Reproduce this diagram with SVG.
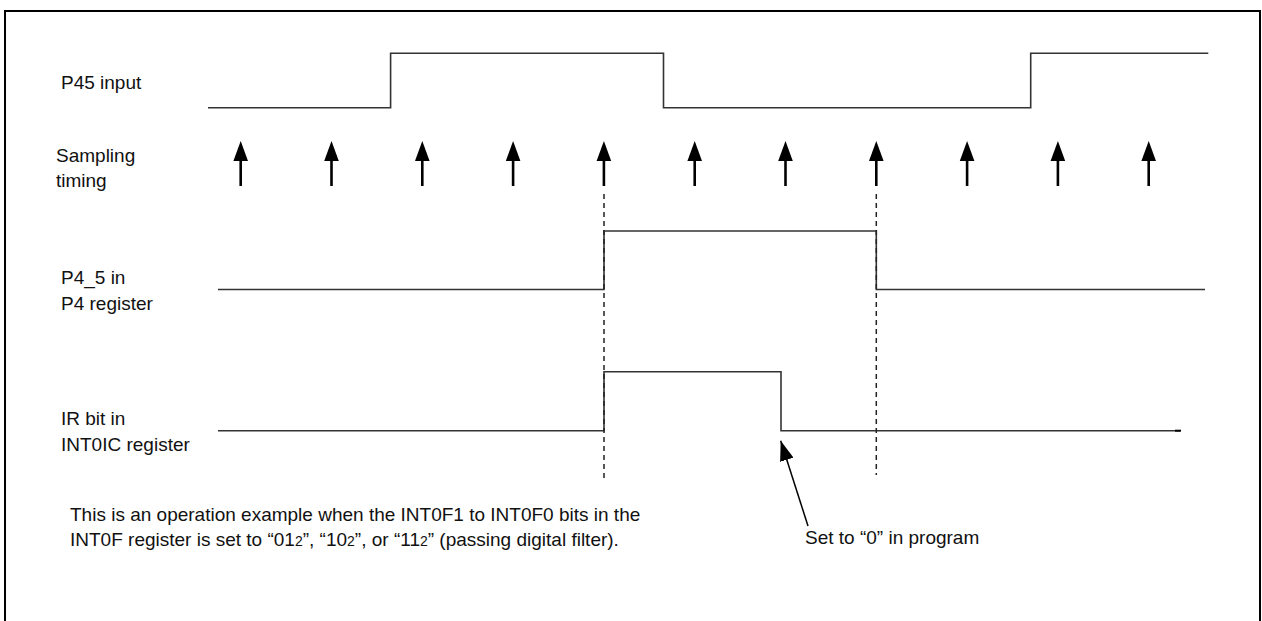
<svg xmlns="http://www.w3.org/2000/svg" xmlns:xlink="http://www.w3.org/1999/xlink" width="1262" height="621" viewBox="0 0 1262 621">
  <style>
    .lbl { font-family: "Liberation Sans", Arial, sans-serif; font-size: 19px; fill: #111; }
    .wave { fill: none; stroke: #333; stroke-width: 1.6; }
    .dash { fill: none; stroke: #222; stroke-width: 1.5; stroke-dasharray: 5 4; }
    .frame { fill: none; stroke: #000; stroke-width: 2; }
    .sub { font-size: 14px; }
  </style>
  <defs>
    <g id="samp">
      <line x1="0" y1="158" x2="0" y2="186" stroke="#000" stroke-width="2.6"/>
      <polygon points="0,141 -7.3,161 7.3,161" fill="#000"/>
    </g>
    <marker id="ah" viewBox="0 0 20 14" refX="20" refY="7" markerWidth="20" markerHeight="14" markerUnits="userSpaceOnUse" orient="auto">
      <path d="M0,0 L20,7 L0,14 Z" fill="#000"/>
    </marker>
  </defs>

  <path class="frame" d="M5,621 V11 H1260 V621"/>

  <g id="label-p45"><text class="lbl" x="61" y="89">P45 input</text></g>
  <g id="label-sampling"><text class="lbl" x="56" y="162">Sampling</text><text class="lbl" x="56" y="187">timing</text></g>
  <g id="label-p4"><text class="lbl" x="61" y="284">P4_5 in</text><text class="lbl" x="61" y="310">P4 register</text></g>
  <g id="label-ir"><text class="lbl" x="61" y="425">IR bit in</text><text class="lbl" x="61" y="451">INT0IC register</text></g>

  <g id="wave-p45"><path class="wave" d="M208,107.7 H390.6 V53.3 H663.5 V107.7 H1030.7 V53.3 H1208.3"/></g>
  <g id="wave-p4"><path class="wave" d="M218,289.5 H604 V231 H876.3 V289.5 H1205"/></g>
  <g id="wave-ir"><path class="wave" d="M218,430.7 H604 V371.7 H781 V430.7 H1180"/>
    <line x1="1175" y1="430.7" x2="1181" y2="430.7" stroke="#000" stroke-width="2"/></g>

  <g id="sampling-arrows">
    <use xlink:href="#samp" x="240.7"/>
    <use xlink:href="#samp" x="331.5"/>
    <use xlink:href="#samp" x="422.3"/>
    <use xlink:href="#samp" x="513.1"/>
    <use xlink:href="#samp" x="603.9"/>
    <use xlink:href="#samp" x="694.7"/>
    <use xlink:href="#samp" x="785.5"/>
    <use xlink:href="#samp" x="876.3"/>
    <use xlink:href="#samp" x="967.1"/>
    <use xlink:href="#samp" x="1057.9"/>
    <use xlink:href="#samp" x="1148.7"/>
  </g>

  <g id="connectors">
    <line class="dash" x1="604" y1="194" x2="604" y2="479"/>
    <line class="dash" x1="876.3" y1="194" x2="876.3" y2="475"/>
    <line x1="808" y1="526" x2="780.7" y2="440.7" stroke="#000" stroke-width="1.5" marker-end="url(#ah)"/>
  </g>

  <g id="note-set0"><text class="lbl" x="805" y="544">Set to “0” in program</text></g>
  <g id="note-bottom">
    <text class="lbl" x="70" y="521">This is an operation example when the INT0F1 to INT0F0 bits in the</text>
    <text class="lbl" x="70" y="546">INT0F register is set to “01<tspan class="sub">2</tspan>”, “10<tspan class="sub">2</tspan>”, or “11<tspan class="sub">2</tspan>” (passing digital filter).</text>
  </g>
</svg>
